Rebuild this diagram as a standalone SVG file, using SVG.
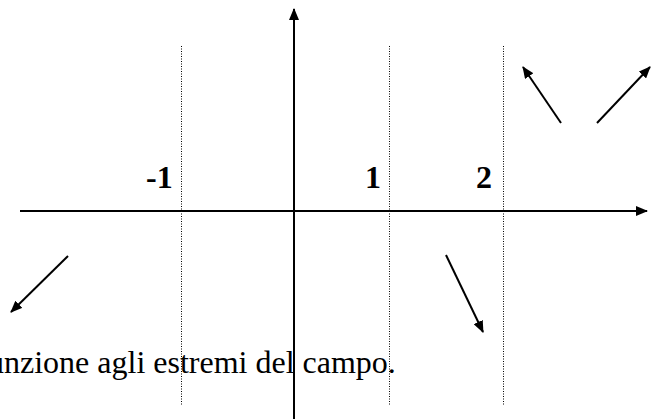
<svg xmlns="http://www.w3.org/2000/svg" width="651" height="419" viewBox="0 0 651 419">
<style>
.ax{stroke:#000;stroke-width:2;fill:none}
.ar{stroke:#000;stroke-width:2;fill:none}
.dot{stroke:#000;stroke-width:1;stroke-dasharray:1 1.5;fill:none}
.lbl{font-family:"Liberation Serif","Times New Roman",serif;font-weight:bold;font-size:32px;fill:#000}
.txt{font-family:"Liberation Serif","Times New Roman",serif;font-size:32px;fill:#000}
</style>
<defs>
<marker id="ah" viewBox="0 0 12 10" refX="11" refY="5" markerWidth="12" markerHeight="10" markerUnits="userSpaceOnUse" orient="auto">
<path d="M0,0 L12,5 L0,10 z" fill="#000"/>
</marker>
</defs>
<rect width="651" height="419" fill="#fff"/>
<g id="guides">
<line class="dot" x1="181.5" y1="46" x2="181.5" y2="405"/>
<line class="dot" x1="389.5" y1="46" x2="389.5" y2="405"/>
<line class="dot" x1="503.5" y1="46" x2="503.5" y2="405"/>
</g>
<g id="axes">
<line id="x-axis" class="ax" x1="20" y1="211" x2="647" y2="211" marker-end="url(#ah)"/>
<line id="y-axis" class="ax" x1="294" y1="419" x2="294" y2="9" marker-end="url(#ah)"/>
</g>
<g id="labels">
<text class="lbl" x="146" y="188">-1</text>
<text class="lbl" x="365" y="188">1</text>
<text class="lbl" x="476" y="188">2</text>
</g>
<g id="connectors">
<line class="ar" x1="68" y1="256" x2="11" y2="312" marker-end="url(#ah)"/>
<line class="ar" x1="446" y1="255" x2="483" y2="332" marker-end="url(#ah)"/>
<line class="ar" x1="561" y1="123" x2="523" y2="67" marker-end="url(#ah)"/>
<line class="ar" x1="597" y1="123" x2="650" y2="67" marker-end="url(#ah)"/>
</g>
<text id="caption" class="txt" x="-12" y="373">unzione agli estremi del campo.</text>
</svg>
